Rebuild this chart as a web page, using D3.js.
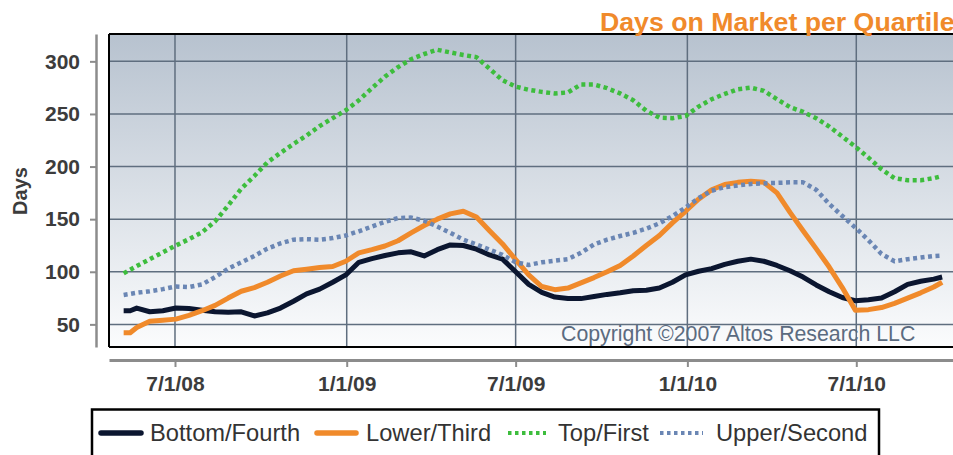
<!DOCTYPE html>
<html><head><meta charset="utf-8">
<script src="https://cdn.jsdelivr.net/npm/d3@7"></script>
<style>
body{margin:0;background:#fff}
svg{display:block}
text{font-family:"Liberation Sans",Arial,Helvetica,sans-serif}
</style></head>
<body>
<svg id="chart" width="953" height="455"></svg>
<script>
// ---------- DATA ----------
const dates = ["2008-05-07","2008-05-14","2008-05-21","2008-06-04","2008-06-18","2008-07-02","2008-07-16","2008-07-30","2008-08-13","2008-08-27","2008-09-10",
"2008-09-24","2008-10-08","2008-10-22","2008-11-05","2008-11-19","2008-12-03","2008-12-17","2008-12-31","2009-01-14","2009-01-28",
"2009-02-11","2009-02-25","2009-03-11","2009-03-25","2009-04-08","2009-04-22","2009-05-06","2009-05-20","2009-06-03","2009-06-17",
"2009-07-01","2009-07-15","2009-07-29","2009-08-12","2009-08-26","2009-09-09","2009-09-23","2009-10-07","2009-10-21","2009-11-04",
"2009-11-18","2009-12-02","2009-12-16","2009-12-30","2010-01-13","2010-01-27","2010-02-10","2010-02-24","2010-03-10","2010-03-24",
"2010-04-07","2010-04-21","2010-05-05","2010-05-19","2010-06-02","2010-06-16","2010-06-30","2010-07-14","2010-07-28","2010-08-11",
"2010-08-25","2010-09-08","2010-09-22","2010-10-01"];
const bottomFourth = [63,63,65.5,62,63,65.5,65,63.5,62,61.5,62,
58,61,65.5,72,79,83.5,90,97,109,112.5,
115.5,118,119,115,121,125.5,125,121.5,116,112,
100,88,80.5,76,74.5,74.5,76.5,78.5,80,82,
82.5,84.5,90,97,100.5,103,107,110,112,110,
106,101,95,87.5,81,75.5,72.5,73.5,75,81,
88,91,93,95];
const lowerThird = [42,42,47,53,54,55,58.5,63,68,75,81.5,
85,90,96,101,102.5,104,105,110,118,121,
124.5,129.5,137,144,150,155,157.5,152,139,126.5,
111.5,97,86,83,84.5,89.5,94.5,100,106,115,
125,134.5,146.5,157.5,169,178,183,185,186,185,
175,156.5,139,122,104.5,85,63.5,64,66,70,
75,80,85.5,90];
const topFirst = [98.5,102,105.5,112,118.5,125,131,137.5,148,163,179,
191,204,213,221.5,229.5,238.5,246,253.5,263,274.5,
285.5,294.5,302,307,311,308.5,306,304,293,282,
276,273,271,269.5,270.5,278,278,274.5,269.5,263,
253,246.5,246,248,257,264,269,273.5,275,272,
264,256.5,252,246,238,228.5,219,208.5,197.5,189,
187,187,189,191];
const upperSecond = [78,79,80,81.5,83.5,86,85.5,88,95,103,109,
115,122,127,130.5,131,130.5,132,134.5,138.5,143,
147.5,151,151.5,148.5,143,137,130.5,126,121,116,
109,106.5,109,110.5,112,118,126,130.5,134,137,
141,146,153,161,170,177,180.5,182,183.5,184,
184.5,185,185,178,164.5,153,142,130,117,110,
112,113.5,115,115.5];
const seriesNames = ["Bottom/Fourth","Lower/Third","Top/First","Upper/Second"];
const yTicks = [50,100,150,200,250,300];
const xTickDates = ["2008-07-01","2009-01-01","2009-07-01","2010-01-01","2010-07-01"];
const xTickLabels = ["7/1/08","1/1/09","7/1/09","1/1/10","7/1/10"];
const titleText = "Days on Market per Quartile";
const yTitle = "Days";
const copyrightText = "Copyright \u00A92007 Altos Research LLC";

// ---------- SETUP ----------
const parse = d3.timeParse("%Y-%m-%d");
const svg = d3.select("#chart");
const P = {left:109, top:34, right:953, bottom:347};
const x = d3.scaleTime()
  .domain([new Date(2008,3,21,7), new Date(2010,9,12,15)])
  .range([P.left, P.right]);
const y = d3.scaleLinear().domain([28.5,326]).range([P.bottom, P.top]);

const series = [
  {name:seriesNames[0], values:bottomFourth, color:"#0b1630", width:5, dash:null},
  {name:seriesNames[1], values:lowerThird, color:"#f08a2b", width:5, dash:null},
  {name:seriesNames[2], values:topFirst, color:"#3dbd3d", width:4.5, dash:"4,3.5"},
  {name:seriesNames[3], values:upperSecond, color:"#6a86b4", width:4.5, dash:"4,3.5"}
];

// gradient
const defs = svg.append("defs");
const grad = defs.append("linearGradient").attr("id","bg").attr("x1",0).attr("y1",0).attr("x2",0).attr("y2",1);
grad.append("stop").attr("offset","0%").attr("stop-color","#b7c2cf");
grad.append("stop").attr("offset","100%").attr("stop-color","#fbfcfd");

svg.append("rect").attr("x",P.left).attr("y",P.top)
  .attr("width",P.right-P.left).attr("height",P.bottom-P.top).attr("fill","url(#bg)");

// grid
const grid = svg.append("g").attr("stroke","#5f6e7f").attr("stroke-width",1.5);
grid.selectAll("line.h").data(yTicks).join("line").attr("class","h")
  .attr("x1",P.left).attr("x2",P.right).attr("y1",d=>y(d)).attr("y2",d=>y(d));
grid.selectAll("line.v").data(xTickDates).join("line").attr("class","v")
  .attr("x1",d=>x(parse(d))).attr("x2",d=>x(parse(d))).attr("y1",P.top).attr("y2",P.bottom);

// copyright
svg.append("text").attr("x",561).attr("y",341).attr("font-size",21.3).attr("fill","#5b6b80")
  .text(copyrightText);

// lines
const line = d3.line().x((d,i)=>x(parse(dates[i]))).y(d=>y(d));
svg.append("g").selectAll("path").data(series).join("path")
  .attr("d",d=>line(d.values)).attr("fill","none")
  .attr("stroke",d=>d.color).attr("stroke-width",d=>d.width)
  .attr("stroke-dasharray",d=>d.dash)
  .attr("stroke-linejoin","round");

// frame
const frame = svg.append("g").attr("stroke","#000").attr("stroke-width",2);
frame.append("line").attr("x1",P.left).attr("x2",P.right).attr("y1",P.top).attr("y2",P.top);
frame.append("line").attr("x1",P.left).attr("x2",P.right).attr("y1",P.bottom).attr("y2",P.bottom);
frame.append("line").attr("x1",P.left).attr("x2",P.left).attr("y1",P.top).attr("y2",P.bottom);

// y axis
const yAx = svg.append("g").attr("transform","translate(96,0)")
  .call(d3.axisLeft(y).tickValues(yTicks).tickSize(6).tickSizeOuter(0).tickPadding(10));
yAx.select(".domain").attr("stroke","#8c8c8c").attr("stroke-width",2.5);
yAx.selectAll(".tick line").attr("stroke","#8c8c8c").attr("stroke-width",2);
yAx.selectAll(".tick text").attr("font-size",21).attr("font-weight","bold").attr("fill","#3c3c3c")
  .attr("font-family","'Liberation Sans',Arial,sans-serif");

// x axis
const xAx = svg.append("g").attr("transform","translate(0,360)")
  .call(d3.axisBottom(x).tickValues(xTickDates.map(parse)).tickFormat((d,i)=>xTickLabels[i])
    .tickSize(7).tickSizeOuter(0).tickPadding(9));
xAx.select(".domain").attr("stroke","#8c8c8c").attr("stroke-width",3);
xAx.selectAll(".tick line").attr("stroke","#8c8c8c").attr("stroke-width",2);
xAx.selectAll(".tick text").attr("font-size",21).attr("font-weight","bold").attr("fill","#3c3c3c")
  .attr("font-family","'Liberation Sans',Arial,sans-serif");

// y title
svg.append("text").attr("transform","translate(27,191) rotate(-90)")
  .attr("text-anchor","middle").attr("font-size",20).attr("font-weight","bold").attr("fill","#3c3c3c")
  .text(yTitle);

// title
svg.append("text").attr("x",600).attr("y",31).attr("font-size",26.7).attr("font-weight","bold")
  .attr("fill","#f08a2b").text(titleText);

// legend
svg.append("rect").attr("x",92).attr("y",409.5).attr("width",787).attr("height",60)
  .attr("fill","#fff").attr("stroke","#000").attr("stroke-width",2.5);
const legPos = [{sx:101,ex:141,tx:150},{sx:317,ex:356,tx:366},{sx:508,ex:546,tx:558},{sx:660,ex:703,tx:716}];
const leg = svg.append("g").selectAll("g").data(series).join("g");
leg.append("line").attr("x1",(d,i)=>legPos[i].sx).attr("x2",(d,i)=>legPos[i].ex)
  .attr("y1",433).attr("y2",433).attr("stroke",d=>d.color)
  .attr("stroke-width",d=>d.dash?4:5.5).attr("stroke-dasharray",d=>d.dash?"3.5,3.5":null)
  .attr("stroke-linecap",d=>d.dash?"butt":"round");
leg.append("text").attr("x",(d,i)=>legPos[i].tx).attr("y",441).attr("font-size",23.7)
  .attr("fill","#333").text(d=>d.name);
</script>
</body></html>
